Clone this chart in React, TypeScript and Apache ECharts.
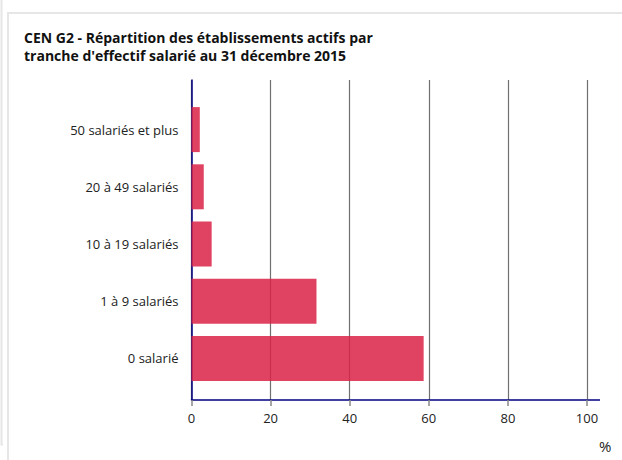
import React, { useEffect, useRef } from "react";
import * as echarts from "echarts";

const categories = ["0 salarié", "1 à 9 salariés", "10 à 19 salariés", "20 à 49 salariés", "50 salariés et plus"];
const values = [58.7, 31.6, 5.1, 3.1, 2.1];
const xTicks = [0, 20, 40, 60, 80, 100];
const titleLines = [
  "CEN G2 - Répartition des établissements actifs par",
  "tranche d'effectif salarié au 31 décembre 2015",
];

const FONT = "'Open Sans', 'Noto Sans', sans-serif";
const GRID_LEFT = 191.5;
const GRID_RIGHT_X = 587;
const AXIS_COLOR = "#000080";

export default function App() {
  const ref = useRef<HTMLDivElement>(null);
  useEffect(() => {
    if (!ref.current) return;
    const chart = echarts.init(ref.current, null, { renderer: "svg" });
    const gridRight = 622 - GRID_RIGHT_X;
    chart.setOption({
      animation: false,
      backgroundColor: "#ffffff",
      title: {
        text: titleLines.join("\n"),
        left: 24,
        top: 28,
        padding: 0,
        textStyle: { fontFamily: FONT, fontSize: 14, fontWeight: "bold", color: "#111", lineHeight: 18 },
      },
      grid: [
        { left: GRID_LEFT, right: gridRight, top: 80, bottom: 60, containLabel: false },
        { left: GRID_LEFT, right: gridRight, top: 101, bottom: 73, containLabel: false },
      ],
      xAxis: [
        {
          type: "value",
          gridIndex: 0,
          min: xTicks[0],
          max: xTicks[xTicks.length - 1],
          interval: 20,
          axisLine: { show: true, lineStyle: { color: AXIS_COLOR, width: 1.5 } },
          axisTick: { show: true, length: 6, lineStyle: { color: "#888", width: 1.5 } },
          axisLabel: { fontFamily: FONT, fontSize: 13, color: "#222", margin: 11 },
          splitLine: { show: true, lineStyle: { color: "#707070", width: 1.2 } },
        },
        {
          type: "value",
          gridIndex: 1,
          min: xTicks[0],
          max: xTicks[xTicks.length - 1],
          show: false,
        },
      ],
      yAxis: [
        {
          type: "value",
          gridIndex: 0,
          min: 0,
          max: 1,
          axisLine: { show: true, lineStyle: { color: AXIS_COLOR, width: 1.5 } },
          axisTick: { show: false },
          axisLabel: { show: false },
          splitLine: { show: false },
        },
        {
          type: "category",
          gridIndex: 1,
          data: categories,
          axisLine: { show: false },
          axisTick: { show: false },
          axisLabel: { fontFamily: FONT, fontSize: 13, color: "#222", margin: 13 },
          splitLine: { show: false },
        },
      ],
      series: [
        {
          type: "bar",
          xAxisIndex: 1,
          yAxisIndex: 1,
          data: values,
          barWidth: 45,
          itemStyle: { color: "rgba(219,34,70,0.85)" },
          z: 1,
        },
      ],
      graphic: [
        {
          type: "line",
          shape: { x1: GRID_RIGHT_X, y1: 400, x2: 600, y2: 400 },
          style: { stroke: AXIS_COLOR, lineWidth: 1.5 },
        },
        {
          type: "text",
          x: 599,
          y: 438,
          style: { text: "%", fontFamily: FONT, fontSize: 15, fill: "#222" },
        },
        {
          type: "polyline",
          shape: { points: [[1.5, 0], [1.5, 444.5], [3, 444.5]] },
          style: { stroke: "#e6e6e6", lineWidth: 2, fill: null },
        },
        {
          type: "polyline",
          shape: { points: [[8, 460], [8, 13], [622, 13]] },
          style: { stroke: "#e6e6e6", lineWidth: 2, fill: null },
        },
      ],
    });
    return () => chart.dispose();
  }, []);
  return (
    <div
      ref={ref}
      style={{ position: "fixed", left: 0, top: 0, width: 622, height: 460 }}
    />
  );
}
